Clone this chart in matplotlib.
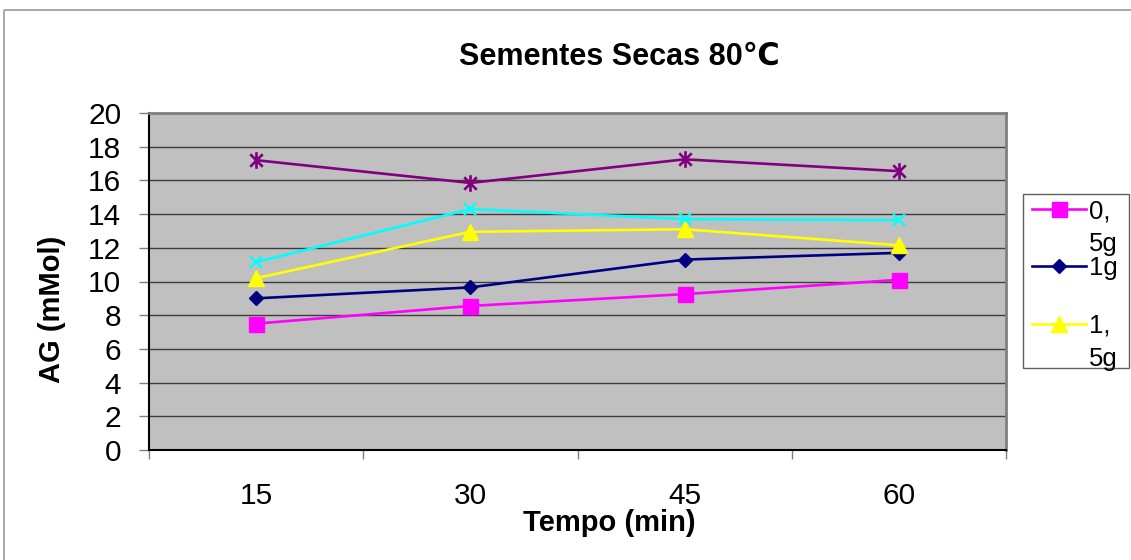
import matplotlib
matplotlib.use("Agg")
import matplotlib.pyplot as plt
from matplotlib.lines import Line2D
from matplotlib.patches import Rectangle
from matplotlib.path import Path

plt.rcParams['font.family'] = ['Liberation Sans', 'DejaVu Sans']

# --- data -------------------------------------------------------------
tempos = ["15", "30", "45", "60"]
serie_05g = [7.5, 8.55, 9.25, 10.1]
serie_1g = [9.0, 9.65, 11.3, 11.7]
serie_15g = [10.2, 12.95, 13.1, 12.15]
serie_2g = [11.15, 14.3, 13.7, 13.65]
serie_25g = [17.2, 15.85, 17.25, 16.55]
nomes = ["0,5g", "1g", "1,5g", "2g", "2,5g"]

titulo = "Sementes Secas 80\u2103"
rotulo_x = "Tempo (min)"
rotulo_y = "AG (mMol)"

# --- figure -----------------------------------------------------------
W, H = 1131, 560
fig = plt.figure(figsize=(W / 100, H / 100), dpi=100)
fig.patch.set_facecolor("white")
fig.patch.set_linewidth(0)


def fx(px):
    return px / W


def fy(py):
    return 1 - py / H


# chart-area border: only its left and top edges fall inside the canvas
fig.add_artist(Line2D([fx(4), fx(4)], [fy(10), 0], transform=fig.transFigure,
                      color="#9a9a9a", lw=1.2, solid_capstyle="butt"))
fig.add_artist(Line2D([fx(4), fx(1131)], [fy(10), fy(10)], transform=fig.transFigure,
                      color="#9a9a9a", lw=1.2, solid_capstyle="butt"))

ax = fig.add_axes([fx(149), fy(450), fx(1006) - fx(149), fy(113) - fy(450)])
ax.set_facecolor("#C0C0C0")

# Excel-style asterisk: an "x" crossed by a vertical bar
asterisco = Path([(-0.45, -0.45), (0.45, 0.45), (-0.45, 0.45), (0.45, -0.45),
                  (0, -0.6), (0, 0.6)],
                 [Path.MOVETO, Path.LINETO, Path.MOVETO, Path.LINETO,
                  Path.MOVETO, Path.LINETO])

estilos = [
    dict(color="#FF00FF", marker="s", markersize=10.8),
    dict(color="#000080", marker="D", markersize=7.4),
    dict(color="#FFFF00", marker="^", markersize=11.0),
    dict(color="#00FFFF", marker="x", markersize=9.2, markeredgewidth=1.7),
    dict(color="#800080", marker=asterisco, markersize=12.0, markeredgewidth=1.9),
]
series = [serie_05g, serie_1g, serie_15g, serie_2g, serie_25g]
pos = list(range(len(tempos)))

for valores, nome, est in zip(series, nomes, estilos):
    ax.plot(pos, valores, lw=1.9, label=nome, zorder=3, **est)

ax.set_xlim(-0.5, len(tempos) - 0.5)
ax.set_ylim(0, 20)
ax.set_yticks(range(0, 21, 2))
ax.yaxis.grid(True, color="#3c3c3c", lw=1.0)
ax.set_axisbelow(True)

ax.set_xticks([p - 0.5 for p in range(len(tempos) + 1)])
ax.set_xticklabels([])
ax.set_xticks(pos, minor=True)
ax.set_xticklabels(tempos, minor=True)
ax.tick_params(axis="x", which="major", length=6.5, width=1.0, color="#808080", direction="out")
ax.tick_params(axis="x", which="minor", length=0, pad=23, labelsize=21.5)
ax.tick_params(axis="y", length=7.5, width=1.0, color="#808080", direction="out",
               pad=12.5, labelsize=21.5)

for s in ("top", "right"):
    ax.spines[s].set_color("#808080")
    ax.spines[s].set_linewidth(2.0)
for s in ("left", "bottom"):
    ax.spines[s].set_color("black")
    ax.spines[s].set_linewidth(1.5)

fig.text(fx(619), fy(57), titulo, ha="center", va="center",
         fontsize=22, fontweight="bold")
fig.text(fx(609), fy(523), rotulo_x, ha="center", va="center",
         fontsize=21, fontweight="bold")
fig.text(fx(52), fy(309), rotulo_y, ha="center", va="center",
         rotation=90, fontsize=21, fontweight="bold")

# --- legend (first three series) --------------------------------------
fig.patches.append(Rectangle((fx(1023), fy(368)), fx(1129) - fx(1023), fy(194) - fy(368),
                             transform=fig.transFigure, facecolor="white",
                             edgecolor="#606060", lw=1.0, zorder=5))
legenda_y = [209, 266, 324]
legenda_linhas = [["0,", "5g"], ["1g"], ["1,", "5g"]]
for i, (yy, linhas) in enumerate(zip(legenda_y, legenda_linhas)):
    est = estilos[i]
    fig.add_artist(Line2D([fx(1032), fx(1086)], [fy(yy), fy(yy)], transform=fig.transFigure,
                          lw=1.9, zorder=6, color=est["color"]))
    fig.add_artist(Line2D([fx(1059)], [fy(yy)], transform=fig.transFigure, lw=0,
                          zorder=7, color=est["color"], marker=est["marker"],
                          markersize=est["markersize"]))
    for k, linha in enumerate(linhas):
        fig.text(fx(1089), fy(yy + 9 + 33 * k), linha, ha="left", va="baseline",
                 fontsize=18.5, zorder=8)

fig.savefig("out.png", dpi=100)
